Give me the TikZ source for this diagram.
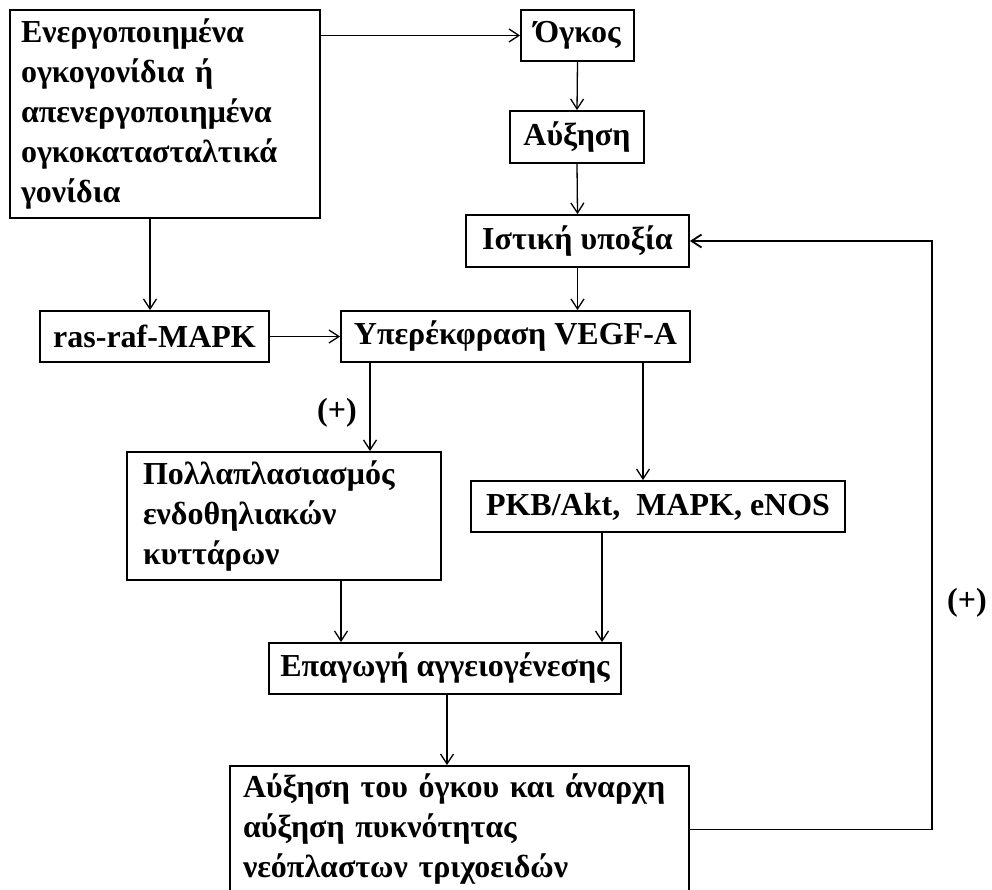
\documentclass[tikz,border=0pt]{standalone}
\usepackage{fontspec}
\setmainfont{Liberation Serif}
\usetikzlibrary{arrows.meta,calc}
\begin{document}
\begin{tikzpicture}[x=1pt,y=-1pt,
  font=\fontsize{32}{40}\selectfont\bfseries,
  box/.style={draw, line width=1.8pt, inner sep=0pt, minimum height=51pt, align=center},
  mbox/.style={draw, line width=1.8pt, inner ysep=0pt, align=left},
  arr/.style={line width=1.3pt, -{Straight Barb[length=10pt,width=13pt]}},
  fb/.style={line width=1.8pt, -{Straight Barb[length=10pt,width=13pt]}},
  lbl/.style={inner sep=0pt}]
\useasboundingbox[fill=white] (0,0) rectangle (992,890);
% boxes
\node[mbox, inner xsep=11pt, text width=288pt, minimum height=208pt] (src) at (165,114)
  {Ενεργοποιημένα\\ογκογονίδια ή\\απενεργοποιημένα\\ογκοκατασταλτικά\\γονίδια};
\node[box, minimum width=113pt] (ogkos) at (577.5,35.5) {Όγκος};
\node[box, minimum width=134pt, minimum height=52pt] (auxisi) at (577,137) {Αύξηση};
\node[box, minimum width=223pt, minimum height=52pt] (ypoxia) at (577.5,241) {Ιστική υποξία};
\node[box, minimum width=229pt] (ras) at (154.5,336.5) {ras-raf-MAPK};
\node[box, minimum width=349pt] (vegf) at (515.5,336.5) {Υπερέκφραση VEGF-A};
\node[mbox, inner xsep=16pt, text width=282pt, minimum height=128pt] (poll) at (284,516)
  {Πολλαπλασιασμός\\ενδοθηλιακών\\κυττάρων};
\node[box, minimum width=374pt] (pkb) at (658,506.5) {PKB/Akt,~~MAPK, eNOS};
\node[box, minimum width=352pt] (epag) at (445,668.5) {Επαγωγή αγγειογένεσης};
\node[mbox, inner xsep=13pt, text width=433pt, minimum height=127pt] (grow) at (459.5,829.5)
  {Αύξηση του όγκου και άναρχη\\αύξηση πυκνότητας\\νεόπλαστων τριχοειδών};
% labels
\node[lbl] (p1) at (337,413) {(+)};
\node[lbl] (p2) at (967,603) {(+)};
% helper coordinates
\coordinate (d0) at (150,0);
\coordinate (d1) at (370,0);
\coordinate (d2) at (643,0);
\coordinate (d3) at (341,0);
\coordinate (d4) at (602,0);
\coordinate (d5) at (447,0);
\coordinate (fbx) at (932,500);
% connectors
\draw[arr] (src.east |- ogkos.west) -- (ogkos.west);
\draw[arr] (ogkos.south) -- (auxisi.north);
\draw[arr] (auxisi.south) -- (ypoxia.north);
\draw[arr] (ypoxia.south) -- (ypoxia.south |- vegf.north);
\draw[arr] (src.south -| d0) -- (ras.north -| d0);
\draw[arr] (ras.east) -- (vegf.west);
\draw[arr] (vegf.south -| d1) -- (poll.north -| d1);
\draw[arr] (vegf.south -| d2) -- (pkb.north -| d2);
\draw[arr] (poll.south -| d3) -- (epag.north -| d3);
\draw[arr] (pkb.south -| d4) -- (epag.north -| d4);
\draw[arr] (epag.south -| d5) -- (grow.north -| d5);
\draw[fb] (grow.east) -| (fbx) |- (ypoxia.east);
\end{tikzpicture}
\end{document}
